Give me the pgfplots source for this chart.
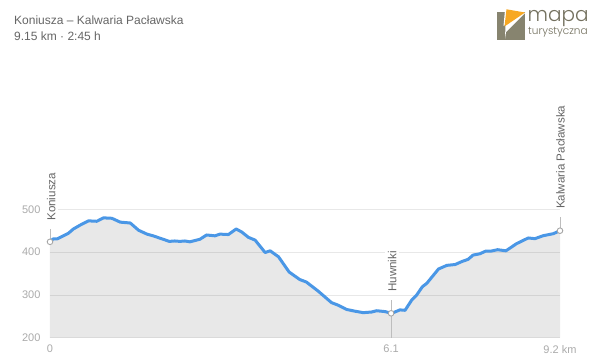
\documentclass[border=0pt]{standalone}
\usepackage{pgfplots}
\usepackage{pgfplotstable}
\usepackage{fontspec}
\pgfplotsset{compat=1.18}
\setmainfont{Liberation Sans}
\newfontfamily\logofont{Poppins Light}
\definecolor{gridc}{HTML}{E8E8E8}
\definecolor{tickc}{HTML}{ABABAB}
\definecolor{textc}{HTML}{666666}
\definecolor{bluec}{HTML}{4A97E6}
\definecolor{vlinec}{HTML}{BDBDBD}
\definecolor{logog}{HTML}{87846F}
\definecolor{logoo}{HTML}{F7A823}
\pgfplotstableread{
km m
0 425
0.06 431
0.13 431
0.33 444
0.42 454
0.54 463
0.69 473
0.84 472
0.96 480
1.11 479
1.26 470
1.44 468
1.59 451
1.74 442
1.85 438
2.03 430
2.14 425
2.24 426
2.33 425
2.42 426
2.51 424
2.69 430
2.81 440
2.96 438
3.05 442
3.20 441
3.34 454
3.44 447
3.56 434.5
3.68 428
3.86 399
3.95 403
4.10 389
4.29 353.5
4.48 336
4.60 330
4.81 309
5.05 282
5.17 276
5.32 266
5.47 262
5.62 258.5
5.77 260
5.86 263
6.01 261
6.13 257
6.28 265
6.37 264
6.49 288
6.58 300
6.68 319
6.76 327
6.97 360.5
7.12 369
7.27 371
7.39 378
7.50 383
7.59 393
7.71 396
7.82 402.5
7.92 402.5
8.03 405.6
8.18 403
8.37 419.7
8.58 433
8.70 431.4
8.85 438.4
9.03 443
9.15 450
}\elev
\begin{document}
\begin{tikzpicture}[x=1pt,y=1pt]
\path[use as bounding box,fill=white] (0,0) rectangle (600,362);
\begin{axis}[
  at={(50pt,24.3pt)},anchor=south west,
  scale only axis,width=510pt,height=128.4pt,
  xmin=0,xmax=9.15,ymin=200,ymax=500,clip=false,
  axis x line=bottom,axis y line=left,
  x axis line style={-,draw=gridc,line width=0.9pt},
  y axis line style={-,draw=none},
  major tick length=0pt,
  ytick={200,300,400,500},
  xtick={0,6.12,9.15},
  xticklabels={0,6.1,9.2 km},
  ymajorgrids,
  grid style={draw=gridc,line width=0.8pt},
  tick label style={font=\fontsize{11}{13}\selectfont,text=tickc},
  /pgf/number format/assume math mode=true,
  yticklabel style={xshift=-6pt},
  xticklabel style={yshift=-4pt},
]
\addplot[fill=black,fill opacity=0.09,draw=none] table[x=km,y=m] {\elev} \closedcycle;
\addplot[vlinec,line width=0.8pt] coordinates {(0,424) (0,455)};
\addplot[vlinec,line width=0.8pt] coordinates {(6.12,200) (6.12,288)};
\addplot[vlinec,line width=0.8pt] coordinates {(9.15,450) (9.15,482)};
\addplot[bluec,line width=3pt,line join=round,line cap=round] table[x=km,y=m] {\elev};
\addplot[only marks,mark=*,mark size=2.8pt,mark options={fill=white,draw=black!35,line width=0.9pt}] coordinates {(0,424) (6.12,257) (9.15,450)};
\node[rotate=90,anchor=west,fill=white,inner ysep=3pt,inner xsep=0pt,text=textc,font=\fontsize{11.6}{14}\selectfont] at (axis cs:0.02,473) {Koniusza};
\node[rotate=90,anchor=west,fill=white,inner ysep=3pt,inner xsep=0pt,text=textc,font=\fontsize{11.6}{14}\selectfont] at (axis cs:6.14,307) {Huwniki};
\node[rotate=90,anchor=west,fill=white,inner ysep=3pt,inner xsep=0pt,text=textc,font=\fontsize{11.6}{14}\selectfont] at (axis cs:9.16,500.7) {Kalwaria Pacławska};
\end{axis}
\node[anchor=base west,inner sep=0pt,text=textc,font=\fontsize{12}{14}\selectfont] at (14,337.2) {Koniusza – Kalwaria Pacławska};
\node[anchor=base west,inner sep=0pt,text=textc,font=\fontsize{12}{14}\selectfont] at (14,321.2) {9.15 km · 2:45 h};
% logo
\fill[logog] (497.3,322) rectangle (524.5,350);
\fill[white] (505,323) -- (506,352) -- (506,352) -- (525,349) -- (506,330) -- cycle;
\fill[white] (503.5,336) -- (525.5,350.5) -- (525.5,352) -- (505,352) -- cycle;
\fill[logoo] (506.5,352.7) -- (525,349.5) -- (504.5,335.5) -- cycle;
\node[anchor=base west,inner sep=0pt,text=logog!85!black,font=\logofont\fontsize{20}{22}\selectfont] at (527.5,340) {mapa};
\node[anchor=base west,inner sep=0pt,text=logog!85!black,font=\logofont\fontsize{10.5}{12}\selectfont] at (528,327.5) {turystyczna};
\end{tikzpicture}
\end{document}
